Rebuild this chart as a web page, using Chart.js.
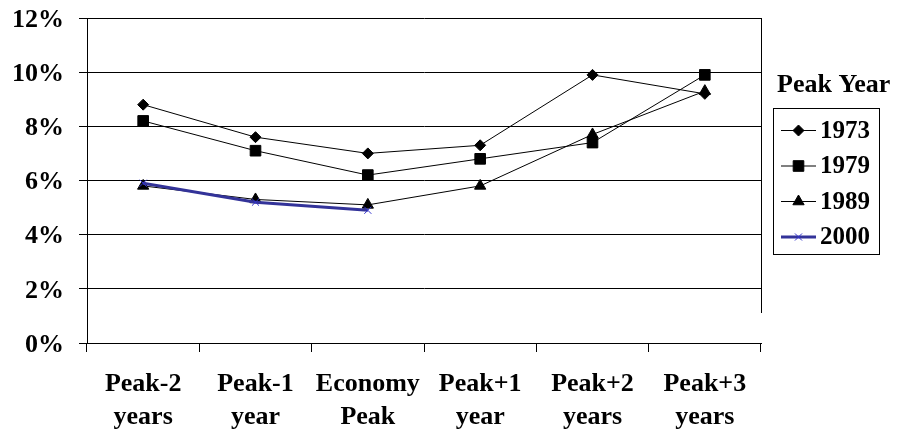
<!DOCTYPE html>
<html>
<head>
<meta charset="utf-8">
<script src="https://cdn.jsdelivr.net/npm/chart.js@4.4.0/dist/chart.umd.min.js"></script>
<style>
  html, body { margin: 0; padding: 0; background: #ffffff; }
  #wrap { width: 910px; height: 430px; }
</style>
</head>
<body>
<div id="wrap"><canvas id="c" width="910" height="430"></canvas></div>
<script>
// Unemployment rate around business-cycle peaks
const categories = [
  ['Peak-2', 'years'], ['Peak-1', 'year'], ['Economy', 'Peak'],
  ['Peak+1', 'year'], ['Peak+2', 'years'], ['Peak+3', 'years']
];
const peak1973 = [8.8, 7.6, 7.0, 7.3, 9.9, 9.2];
const peak1979 = [8.2, 7.1, 6.2, 6.8, 7.4, 9.9];
const peak1989 = [5.8, 5.3, 5.1, 5.8, 7.7, 9.3];
const peak2000 = [5.9, 5.2, 4.9, null, null, null];
const seriesNames = ['1973', '1979', '1989', '2000'];
const yTickValues = [0, 2, 4, 6, 8, 10, 12];
const legendTitle = 'Peak Year';

const FONT = '"Liberation Serif", "Times New Roman", serif';

function blackSeries(label, data, style, radius) {
  return {
    label, data,
    borderColor: '#000000', borderWidth: 1,
    pointStyle: style, pointRadius: radius, pointHoverRadius: radius,
    pointBackgroundColor: '#000000', pointBorderColor: '#000000', pointBorderWidth: 1,
    tension: 0, spanGaps: false, order: 1
  };
}

const datasets = [
  blackSeries(seriesNames[0], peak1973, 'rectRot', 5.5),
  blackSeries(seriesNames[1], peak1979, 'rect', 7.5),
  blackSeries(seriesNames[2], peak1989, 'triangle', 6.5),
  {
    label: seriesNames[3], data: peak2000,
    borderColor: '#333399', borderWidth: 3,
    pointStyle: 'crossRot', pointRadius: 5, pointHoverRadius: 5,
    pointBackgroundColor: '#3333cc', pointBorderColor: '#3333cc', pointBorderWidth: 1,
    tension: 0, spanGaps: false, order: 0
  }
];

// Right-hand frame edge of the plot (stops short of the category axis)
const framePlugin = {
  id: 'frame',
  afterDraw(chart) {
    const { ctx, chartArea: a } = chart;
    ctx.save();
    ctx.strokeStyle = '#000000';
    ctx.lineWidth = 1;
    ctx.beginPath();
    ctx.moveTo(Math.round(a.right) + 0.5, a.top);
    ctx.lineTo(Math.round(a.right) + 0.5, a.bottom - 30);
    ctx.stroke();
    ctx.restore();
  }
};

// Boxed legend with a title above it
const boxLegendPlugin = {
  id: 'boxLegend',
  afterDraw(chart) {
    const { ctx } = chart;
    const x0 = chart.chartArea.right + 12;
    ctx.save();
    ctx.fillStyle = '#000000';
    ctx.textBaseline = 'alphabetic';
    ctx.textAlign = 'left';
    ctx.font = 'bold 26px ' + FONT;
    ctx.fillText(legendTitle, x0 + 4, 92);

    const boxTop = 108.5, rowH = 35.5, boxW = 106;
    const boxH = rowH * chart.data.datasets.length + 4;
    ctx.strokeStyle = '#000000';
    ctx.lineWidth = 1;
    ctx.strokeRect(Math.round(x0) + 0.5, boxTop, boxW, boxH);

    chart.data.datasets.forEach((ds, i) => {
      const cy = boxTop + 22 + i * rowH;
      const lx1 = x0 + 8, lx2 = x0 + 43;
      ctx.strokeStyle = ds.borderColor;
      ctx.lineWidth = ds.borderWidth;
      ctx.beginPath();
      ctx.moveTo(lx1, cy);
      ctx.lineTo(lx2, cy);
      ctx.stroke();
      ctx.fillStyle = ds.pointBackgroundColor;
      ctx.strokeStyle = ds.pointBorderColor;
      ctx.lineWidth = ds.pointBorderWidth;
      Chart.helpers.drawPoint(ctx, {
        pointStyle: ds.pointStyle, radius: ds.pointRadius, rotation: 0, borderWidth: ds.pointBorderWidth
      }, (lx1 + lx2) / 2, cy);
      ctx.fillStyle = '#000000';
      ctx.font = 'bold 25px ' + FONT;
      ctx.textBaseline = 'middle';
      ctx.fillText(ds.label, x0 + 47, cy + 1);
    });
    ctx.restore();
  }
};

new Chart(document.getElementById('c'), {
  type: 'line',
  data: { labels: categories, datasets },
  options: {
    responsive: false,
    animation: false,
    devicePixelRatio: 1,
    layout: { autoPadding: false, padding: { top: 18, right: 149, left: 0, bottom: 0 } },
    plugins: { legend: { display: false }, tooltip: { enabled: false } },
    scales: {
      x: {
        type: 'category',
        offset: true,
        afterFit(scale) {
          scale.height = 87;
          scale.paddingLeft = 0;
          scale.paddingRight = 0;
        },
        grid: {
          offset: true, drawOnChartArea: false, drawTicks: true,
          tickLength: 9, color: '#000000', lineWidth: 1
        },
        border: { display: true, color: '#000000', width: 1 },
        ticks: {
          color: '#000000', maxRotation: 0, autoSkip: false, padding: 15,
          font: { family: FONT, size: 26, weight: 'bold', lineHeight: 1.3 }
        }
      },
      y: {
        min: 0, max: 12,
        afterFit(scale) {
          scale.width = 87;
          scale.paddingTop = 0;
          scale.paddingBottom = 0;
        },
        afterBuildTicks(scale) { scale.ticks = yTickValues.map(v => ({ value: v })); },
        grid: { color: '#000000', lineWidth: 1, tickLength: 8, drawTicks: true },
        border: { display: true, color: '#000000', width: 1 },
        ticks: {
          color: '#000000', padding: 15, labelOffset: 2,
          font: { family: FONT, size: 26, weight: 'bold' },
          callback: v => v + '%'
        }
      }
    }
  },
  plugins: [framePlugin, boxLegendPlugin]
});
</script>
</body>
</html>
